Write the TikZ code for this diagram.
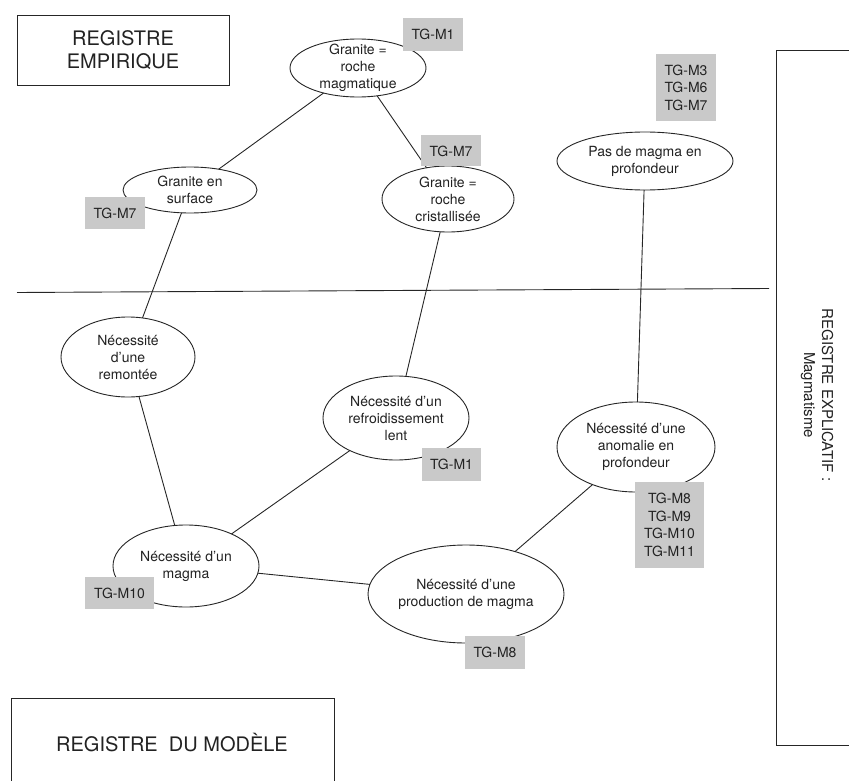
\documentclass[tikz,border=0pt]{standalone}
\usepackage{fontspec}
\setmainfont{TeX Gyre Heros}
\usetikzlibrary{shapes.geometric}
\definecolor{tagGray}{HTML}{C9C9C9}
\definecolor{lineGray}{HTML}{262626}
\definecolor{txtGray}{HTML}{222222}
\begin{document}
\begin{tikzpicture}[x=1pt,y=-1pt,
  ell/.style={ellipse, draw=lineGray, line width=0.9pt, fill=white, inner sep=0pt, outer sep=0pt},
  etxt/.style={align=center, inner sep=0pt, text=txtGray, font=\fontsize{14}{17}\selectfont},
  tag/.style={rectangle, fill=tagGray, inner sep=0pt, align=center, text=txtGray, font=\fontsize{14}{17.5}\selectfont},
  conn/.style={draw=lineGray, line width=0.9pt},
  regbox/.style={draw=lineGray, line width=0.9pt},
  regtxt/.style={align=center, inner sep=0pt, text=txtGray, font=\fontsize{20}{23}\selectfont}]
\path[use as bounding box] (0,0) rectangle (849,781);
\clip (0,0) rectangle (849,781);

% register boxes
\draw[regbox] (17,15) rectangle (229,85);
\node[regtxt] (b1) at (123,50) {REGISTRE\\EMPIRIQUE};
\draw[regbox] (11,830) -- (11,698) -- (334,698) -- (334,830);
\node[regtxt] (b3) at (172,743) {REGISTRE\ \ DU MODÈLE};
\draw[regbox] (870,50) -- (776,50) -- (776,745) -- (870,745);
\node[etxt, rotate=-90, font=\fontsize{15}{18}\selectfont] (b2) at (817,395) {REGISTRE EXPLICATIF :\\Magmatisme};

% separator
\coordinate (sepL) at (17,292.5);
\coordinate (sepR) at (769,288.5);
\draw[conn] (sepL) -- (sepR);

% ellipses
\node[ell, minimum width=136pt, minimum height=58pt] (e1) at (358,68) {};
\node[ell, minimum width=134pt, minimum height=46pt] (e2) at (190,190) {};
\node[ell, minimum width=132pt, minimum height=66pt] (e3) at (448,199) {};
\node[ell, minimum width=176pt, minimum height=58pt] (e4) at (645,161) {};
\node[ell, minimum width=158pt, minimum height=90pt] (e5) at (636,447) {};
\node[ell, minimum width=146pt, minimum height=84pt] (e6) at (396,418) {};
\node[ell, minimum width=134pt, minimum height=80pt] (e7) at (128,357) {};
\node[ell, minimum width=146pt, minimum height=82pt] (e8) at (186,566) {};
\node[ell, minimum width=196pt, minimum height=98pt] (e9) at (466,594) {};

% connectors
\draw[conn] (e1) -- (e2);
\draw[conn] (e1) -- (e3);
\draw[conn] (e2) -- (e7);
\draw[conn] (e3) -- (e6);
\draw[conn] (e4) -- (e5);
\draw[conn] (e7) -- (e8);
\draw[conn] (e8) -- (e6);
\draw[conn] (e8) -- (e9);
\draw[conn] (e9) -- (e5);

% ellipse texts
\node[etxt] (t1) at (e1.center) {Granite =\\roche\\magmatique};
\node[etxt] (t2) at (e2.center) {Granite en\\surface};
\node[etxt] (t3) at (e3.center) {Granite =\\roche\\cristallisée};
\node[etxt] (t4) at (e4.center) {Pas de magma en\\profondeur};
\node[etxt] (t5) at (e5.center) {Nécessité d’une\\anomalie en\\profondeur};
\node[etxt] (t6) at (e6.center) {Nécessité d’un\\refroidissement\\lent};
\node[etxt] (t7) at (e7.center) {Nécessité\\d’une\\remontée};
\node[etxt] (t8) at (e8.center) {Nécessité d’un\\magma};
\node[etxt] (t9) at (e9.center) {Nécessité d’une\\production de magma};

% tags
\node[tag, minimum width=60pt, minimum height=33pt] (g1) at (433,34.5) {TG-M1};
\node[tag, minimum width=60pt, minimum height=32pt] (g2) at (115,213) {TG-M7};
\node[tag, minimum width=60pt, minimum height=31pt] (g3) at (451,151) {TG-M7};
\node[tag, minimum width=60pt, minimum height=67pt] (g4) at (686,87.5) {TG-M3\\TG-M6\\TG-M7};
\node[tag, minimum width=69pt, minimum height=86pt] (g5) at (669.5,525) {TG-M8\\TG-M9\\TG-M10\\TG-M11};
\node[tag, minimum width=59pt, minimum height=33pt] (g6) at (451.5,464.5) {TG-M1};
\node[tag, minimum width=69pt, minimum height=32pt] (g7) at (119.5,593) {TG-M10};
\node[tag, minimum width=60pt, minimum height=33pt] (g8) at (495,652.5) {TG-M8};
\end{tikzpicture}
\end{document}
